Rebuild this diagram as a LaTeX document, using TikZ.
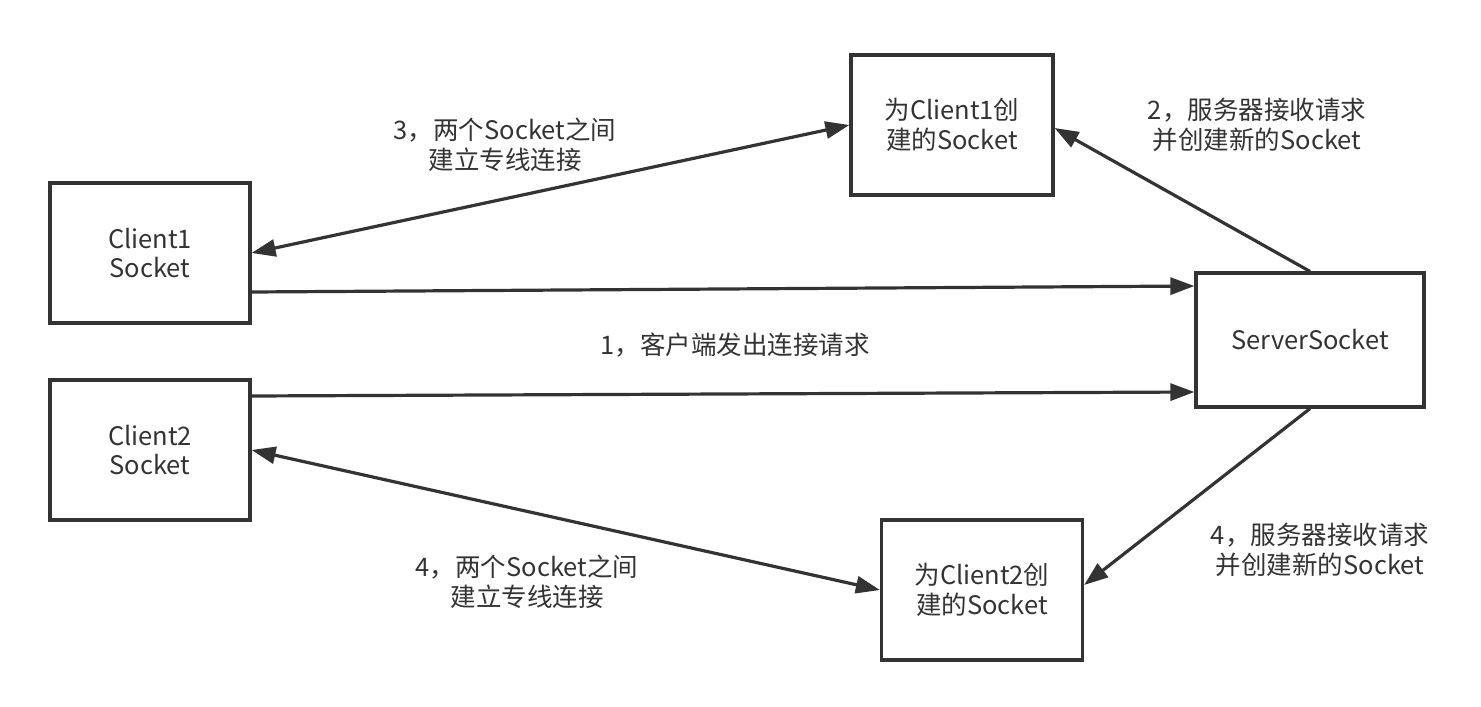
\documentclass[tikz,border=0pt]{standalone}
\usepackage{fontspec}
\setmainfont{Noto Sans CJK SC}
\usetikzlibrary{arrows.meta}
\definecolor{ink}{HTML}{333333}
\tikzset{
  box/.style={draw=ink, line width=3.2pt, fill=white, align=center, inner sep=0pt, text=ink},
  lbl/.style={align=center, text=ink, inner sep=0pt},
  conn/.style={draw=ink, line width=3.2pt, -{Triangle[length=24pt,width=17pt]}},
  dconn/.style={draw=ink, line width=3.2pt, {Triangle[length=24pt,width=17pt]}-{Triangle[length=24pt,width=17pt]}},
}
\begin{document}
\begin{tikzpicture}[x=1pt,y=-1pt,font=\fontsize{25.5pt}{29.5pt}\selectfont]
\useasboundingbox (0,0) rectangle (1481,707);
\node[box, minimum width=200pt, minimum height=140pt] (c1) at (150,253) {Client1\\Socket};
\node[box, minimum width=200pt, minimum height=140pt] (c2) at (150,450) {Client2\\Socket};
\node[box, minimum width=202pt, minimum height=140pt] (c1s) at (952,125) {为Client1创\\建的Socket};
\node[box, minimum width=228pt, minimum height=134pt] (srv) at (1310,340) {ServerSocket};
\node[box, minimum width=201pt, minimum height=140pt] (c2s) at (982,590) {为Client2创\\建的Socket};

\node[lbl] (l3) at (505,145) {3，两个Socket之间\\建立专线连接};
\node[lbl] (l2) at (1257,125) {2，服务器接收请求\\并创建新的Socket};
\node[lbl] (l1) at (735,345) {1，客户端发出连接请求};
\node[lbl] (l4) at (527,582) {4，两个Socket之间\\建立专线连接};
\node[lbl] (l4b) at (1320,550) {4，服务器接收请求\\并创建新的Socket};

\draw[conn] ([yshift=-39pt]c1.east) -- ([yshift=54pt]srv.west);
\draw[conn] ([yshift=54pt]c2.east) -- ([yshift=-52pt]srv.west);
\draw[conn] (srv.north) -- ([yshift=-3pt]c1s.east);
\draw[conn] (srv.south) -- ([yshift=5pt]c2s.east);
\draw[dconn] (c1.east) -- (c1s.west);
\draw[dconn] (c2.east) -- (c2s.west);
\end{tikzpicture}
\end{document}
